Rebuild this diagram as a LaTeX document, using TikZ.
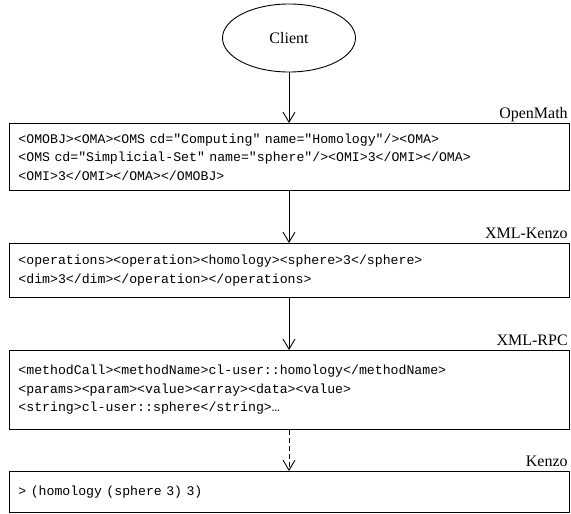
\documentclass[tikz,border=0pt]{standalone}
\usepackage{fontspec}
\setmainfont{Liberation Serif}
\setmonofont{Liberation Mono}
\usetikzlibrary{shapes.geometric,arrows.meta}
\tikzset{
  codebox/.style={draw=black, line width=0.9pt, rectangle, anchor=north west,
    text width=542pt, inner xsep=9pt, inner ysep=0pt, align=left,
    font=\fontsize{13.2pt}{18.5pt}\selectfont\ttfamily},
  lbl/.style={anchor=base east, inner sep=0pt, font=\fontsize{16pt}{18pt}\selectfont},
  flow/.style={draw=black, line width=0.9pt, -{Straight Barb[length=10pt,width=12pt,line width=0.9pt]}},
  clientnode/.style={ellipse, draw=black, line width=0.9pt, minimum width=133pt, minimum height=68pt,
    inner sep=0pt, font=\fontsize{16pt}{18pt}\selectfont}
}
\begin{document}
\begin{tikzpicture}[x=1pt,y=-1pt]
\useasboundingbox (0,0) rectangle (571,514);
\node[clientnode] (client) at (289,38) {Client};
\node[codebox, minimum height=67pt] (b1) at (9,123) {<OMOBJ><OMA><OMS cd="Computing" name="Homology"/><OMA>\\<OMS cd="Simplicial-Set" name="sphere"/><OMI>3</OMI></OMA>\\<OMI>3</OMI></OMA></OMOBJ>};
\node[codebox, minimum height=54pt] (b2) at (9,243) {<operations><operation><homology><sphere>3</sphere>\\<dim>3</dim></operation></operations>};
\node[codebox, minimum height=79pt] (b3) at (9,350) {<methodCall><methodName>cl-user::homology</methodName>\\<params><param><value><array><data><value>\\<string>cl-user::sphere</string>…};
\node[codebox, minimum height=41pt] (b4) at (9,471) {> (homology (sphere 3) 3)};
\node[lbl] (l1) at ([xshift=-2pt,yshift=5pt]b1.north east) {OpenMath};
\node[lbl] (l2) at ([xshift=-2pt,yshift=5pt]b2.north east) {XML-Kenzo};
\node[lbl] (l3) at ([xshift=-2pt,yshift=5pt]b3.north east) {XML-RPC};
\node[lbl] (l4) at ([xshift=-2pt,yshift=5pt]b4.north east) {Kenzo};
\draw[flow] (client.south) -- (client.south |- b1.north);
\draw[flow] (client.south |- b1.south) -- (client.south |- b2.north);
\draw[flow] (client.south |- b2.south) -- (client.south |- b3.north);
\draw[flow, dashed, dash pattern=on 5pt off 3pt] (client.south |- b3.south) -- (client.south |- b4.north);
\end{tikzpicture}
\end{document}
